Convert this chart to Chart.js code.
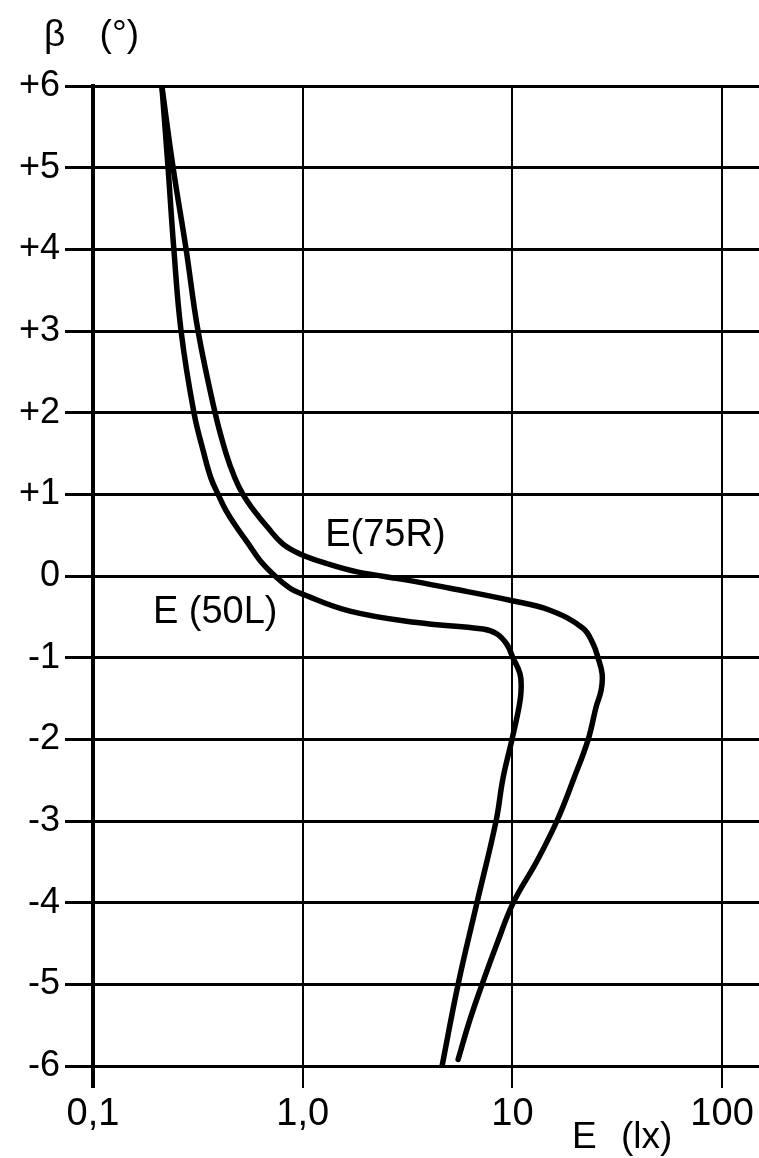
<!DOCTYPE html>
<html>
<head>
<meta charset="utf-8">
<script src="https://cdn.jsdelivr.net/npm/chart.js@4"></script>
<style>
  html, body { margin: 0; padding: 0; background: #fff; }
  #wrap { position: relative; width: 759px; height: 1158px; }
</style>
</head>
<body>
<div id="wrap"><canvas id="chart"></canvas></div>
<script>
// E (lx) on a log axis, beta in degrees
const X_TICKS = [0.1, 1, 10, 100];
const X_TICK_LABELS = ["0,1", "1,0", "10", "100"];
const Y_TICKS = [-6, -5, -4, -3, -2, -1, 0, 1, 2, 3, 4, 5, 6];
const Y_TICK_LABELS = ["-6", "-5", "-4", "-3", "-2", "-1", "0", "+1", "+2", "+3", "+4", "+5", "+6"];

// E(50L) curve
const e50L_E = [0.213, 0.228, 0.243, 0.263, 0.303, 0.338, 0.365, 0.395, 0.431, 0.486, 0.549, 0.626, 0.738, 0.870, 0.971, 1.68, 3.51, 7.25, 8.45, 9.43, 10.05, 10.88, 11.0, 10.76, 9.96, 9.03, 8.36, 6.78, 5.51, 4.62];
const e50L_beta = [6, 5, 4, 3, 2, 1.5, 1.2, 1, 0.8, 0.59, 0.4, 0.19, 0, -0.15, -0.21, -0.43, -0.57, -0.65, -0.71, -0.84, -1.0, -1.2, -1.4, -1.6, -2.0, -2.47, -3.0, -4.0, -5.0, -6.0];

// E(75R) curve
const e75R_E = [0.213, 0.241, 0.278, 0.317, 0.382, 0.431, 0.475, 0.519, 0.586, 0.683, 0.806, 0.971, 1.31, 1.82, 3.15, 5.04, 9.86, 15.1, 21.7, 24.25, 25.6, 26.8, 26.5, 25.1, 23.0, 19.7, 16.3, 13.1, 10.1, 8.45, 7.17, 6.28, 5.51];
const e75R_beta = [6, 5, 4, 3, 2, 1.5, 1.2, 1, 0.8, 0.59, 0.39, 0.27, 0.15, 0.05, -0.05, -0.15, -0.3, -0.42, -0.64, -0.83, -1.0, -1.2, -1.4, -1.6, -2.0, -2.47, -3.0, -3.49, -4.0, -4.5, -5.0, -5.43, -5.92];

const CURVE_LABELS = [
  { text: "E(75R)", E: 1.28, beta: 0.5 },
  { text: "E (50L)", E: 0.193, beta: -0.45 }
];

function toPoints(xs, ys) {
  return xs.map((v, i) => ({ x: v, y: ys[i] }));
}

const FONT = '"Liberation Sans", Arial, sans-serif';

// free text: axis titles and curve names
const textPlugin = {
  id: "textPlugin",
  afterDraw(chart) {
    const ctx = chart.ctx;
    const xs = chart.scales.x;
    const ys = chart.scales.y;
    ctx.save();
    ctx.fillStyle = "#000";
    ctx.textAlign = "left";
    ctx.textBaseline = "middle";
    ctx.font = "38px " + FONT;
    CURVE_LABELS.forEach(l => {
      ctx.fillText(l.text, xs.getPixelForValue(l.E), ys.getPixelForValue(l.beta));
    });
    ctx.font = "37px " + FONT;
    ctx.wordSpacing = "24px";
    ctx.fillText("β (°)", 44, 36);
    ctx.wordSpacing = "14px";
    ctx.fillText("E (lx)", 572, 1138);
    ctx.restore();
  }
};

const curveStyle = {
  borderColor: "#000",
  borderWidth: 5.5,
  borderCapStyle: "round",
  borderJoinStyle: "round",
  pointRadius: 0,
  tension: 0.4
};

new Chart(document.getElementById("chart"), {
  type: "line",
  data: {
    datasets: [
      Object.assign({ label: "E(50L)", data: toPoints(e50L_E, e50L_beta) }, curveStyle),
      Object.assign({ label: "E(75R)", data: toPoints(e75R_E, e75R_beta) }, curveStyle)
    ]
  },
  options: {
    responsive: true,
    maintainAspectRatio: false,
    animation: false,
    layout: { padding: { top: 86, right: 0, left: 0, bottom: 0 } },
    plugins: {
      legend: { display: false },
      tooltip: { enabled: false }
    },
    scales: {
      x: {
        type: "logarithmic",
        min: 0.1,
        max: 150,
        afterBuildTicks: scale => { scale.ticks = X_TICKS.map(v => ({ value: v })); },
        afterFit: scale => {
          scale.height = 92;
          scale.paddingLeft = 0;
          scale.paddingRight = 0;
        },
        ticks: {
          autoSkip: false,
          maxRotation: 0,
          padding: 4,
          color: "#000",
          font: { family: FONT, size: 38 },
          callback: (v, i) => X_TICK_LABELS[i]
        },
        grid: {
          color: "#000",
          lineWidth: ctx => (ctx.tick && ctx.tick.value === 0.1 ? 4 : 2),
          tickLength: 22
        },
        border: { display: false }
      },
      y: {
        min: -6,
        max: 6,
        afterBuildTicks: scale => { scale.ticks = Y_TICKS.map(v => ({ value: v })); },
        afterFit: scale => {
          scale.width = 93;
          scale.paddingTop = 0;
          scale.paddingBottom = 0;
        },
        ticks: {
          autoSkip: false,
          padding: 5,
          color: "#000",
          font: { family: FONT, size: 36 },
          callback: (v, i) => Y_TICK_LABELS[i]
        },
        grid: {
          color: "#000",
          lineWidth: 3,
          tickLength: 28
        },
        border: { display: true, color: "#000", width: 4 }
      }
    }
  },
  plugins: [textPlugin]
});
</script>
</body>
</html>
